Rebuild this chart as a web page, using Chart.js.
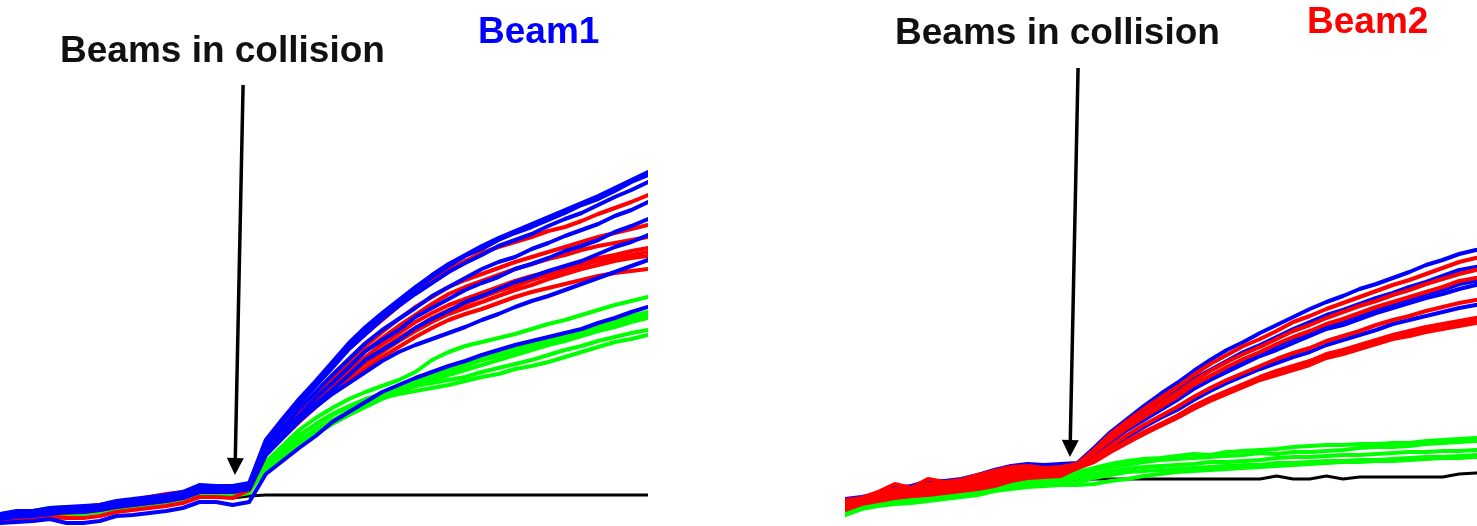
<!DOCTYPE html>
<html>
<head>
<meta charset="utf-8">
<script src="https://cdn.jsdelivr.net/npm/chart.js@4/dist/chart.umd.min.js"></script>
<style>
  html, body { margin: 0; padding: 0; background: #fff; }
  body { position: relative; width: 1477px; height: 526px; overflow: hidden; }
  canvas { position: absolute; top: 0; }
  #beam1 { left: 0; }
  #beam2 { left: 845px; }
  .lbl { position: absolute; font-family: "Liberation Sans", Arial, sans-serif; font-weight: bold;
         white-space: nowrap; line-height: 1; font-size: 37px; }
</style>
</head>
<body>
<canvas id="beam1" width="648" height="526"></canvas>
<canvas id="beam2" width="664" height="526"></canvas>
<div class="lbl" style="left:60px; top:31px; color:#111;">Beams in collision</div>
<div class="lbl" style="left:478px; top:12px; color:#0000ff;">Beam1</div>
<div class="lbl" style="left:895px; top:13px; color:#111;">Beams in collision</div>
<div class="lbl" style="left:1307px; top:2px; color:#ff0000;">Beam2</div>
<script>
// sample number (one reading per step)
const steps = [0,1,2,3,4,5,6,7,8,9,10,11,12,13,14,15,16,17,18,19,20,21,22,23,24,25,26,27,28,29,30,31,32,33,34,35,36,37,38,39];

// ---- Beam 1 panel: growth per bunch, arbitrary units ----
const beam1Blue = [
  [-14,-11,-11,-8,-7,-6,-5,-1,1,3,5,8,15,14,14,17,60,81,101,119,138,157,173,187,200,213,225,236,245,254,262,269,276,283,290,297,304,312,320,328],
  [-15,-12,-11,-9,-8,-7,-6,-2,0,2,4,7,13,13,13,16,59,79,100,117,135,156,170,185,198,210,223,234,244,251,260,267,273,280,287,295,301,309,318,325],
  [-16,-13,-12,-10,-9,-8,-7,-3,-1,1,3,6,12,12,12,15,57,78,96,114,132,151,166,181,194,206,217,228,237,245,254,260,266,274,281,287,295,303,310,318],
  [-17,-14,-13,-11,-10,-9,-7,-4,-2,0,2,5,11,11,11,14,53,72,91,108,125,141,157,170,181,192,204,213,222,231,238,243,251,257,264,270,276,284,290,298],
  [-17,-15,-14,-12,-11,-10,-8,-5,-3,-1,1,4,10,10,10,13,50,69,84,102,117,133,149,160,170,183,192,201,210,217,223,231,236,242,249,254,260,268,274,281],
  [-18,-16,-15,-13,-11,-11,-9,-6,-4,-2,0,3,9,9,9,12,47,63,80,96,110,125,140,150,160,172,181,189,198,204,211,218,223,229,234,239,246,253,258,265],
  [-19,-17,-16,-14,-12,-12,-10,-7,-5,-3,-1,2,8,8,8,11,45,62,79,93,106,117,128,139,148,155,161,167,173,180,186,193,199,204,210,216,222,228,234,240],
  [-23,-22,-21,-19,-23,-23,-21,-16,-15,-13,-11,-8,-2,-2,-5,-2,26,39,52,64,78,88,98,108,115,122,128,134,139,145,150,155,159,163,167,171,177,182,188,193]
];
const beam1Red = [
  [-15,-12,-12,-9,-8,-7,-5,-2,0,3,6,8,13,13,13,15,57,78,98,116,134,151,166,180,194,207,219,230,239,247,253,258,263,269,273,279,286,292,298,305],
  [-16,-14,-13,-10,-9,-8,-6,-3,-1,1,3,6,12,11,12,14,53,72,90,107,123,139,154,168,181,193,203,213,220,226,232,238,243,248,253,258,263,267,271,275],
  [-17,-15,-14,-11,-10,-9,-7,-4,-2,0,2,5,11,10,11,13,51,69,87,103,119,134,149,162,174,185,196,206,213,219,225,231,236,241,245,250,254,257,260,263],
  [-18,-16,-15,-12,-11,-10,-8,-5,-3,-1,1,4,10,9,10,12,49,67,84,100,115,129,143,156,167,178,187,195,201,207,213,219,224,228,233,238,242,245,249,252],
  [-18,-16,-15,-13,-12,-11,-9,-6,-4,-2,0,3,9,9,9,12,48,65,82,97,112,126,139,151,162,172,182,190,196,203,209,214,220,225,230,235,239,242,245,248],
  [-19,-17,-16,-14,-13,-12,-10,-7,-5,-3,-1,2,8,8,8,11,47,64,80,95,110,124,137,148,159,169,178,186,192,198,204,210,215,221,226,231,235,239,242,244],
  [-20,-19,-18,-17,-18,-18,-16,-12,-10,-8,-6,-3,3,3,2,10,45,62,78,93,107,120,132,143,153,163,172,180,186,191,197,203,208,212,216,220,224,227,229,231]
];
const beam1Green = [
  [-14,-12,-11,-8,-7,-7,-5,-2,0,2,4,7,11,11,11,12,38,54,70,82,92,101,108,114,120,128,140,148,154,158,162,166,171,176,180,185,190,195,199,203],
  [-17,-15,-14,-12,-11,-10,-8,-5,-3,-1,1,4,8,8,8,11,32,46,58,69,79,88,96,104,111,118,125,131,137,143,148,153,157,161,166,170,175,180,184,188],
  [-18,-16,-15,-13,-12,-11,-9,-6,-4,-2,0,3,7,7,7,10,30,43,55,66,76,85,93,101,108,115,121,128,134,140,144,149,154,158,163,167,171,176,181,185],
  [-19,-17,-16,-14,-13,-12,-10,-7,-5,-3,-1,2,6,6,6,9,33,48,60,70,80,88,95,102,108,114,119,125,130,135,140,145,150,155,159,164,169,173,178,182],
  [-19,-18,-17,-15,-14,-13,-11,-8,-6,-4,-2,1,5,5,5,8,35,51,64,76,86,94,101,106,111,114,117,120,123,128,132,136,140,145,150,154,159,163,167,170],
  [-20,-18,-17,-15,-14,-14,-12,-9,-7,-5,-3,0,4,4,4,7,34,50,65,75,85,92,98,102,106,109,112,115,119,123,126,131,134,138,143,148,153,158,161,165]
];
const beam1Reference = [-20,-18,-17,-15,-14,-13,-12,-9,-8,-7,-4,0,3,3,2,4,5,5,5,5,5,5,5,5,5,5,5,5,5,5,5,5,5,5,5,5,5,5,5,5];

// ---- Beam 2 panel ----
const beam2Red = [
  [0,2,8,16,12,21,18,20,25,29,33,34,32,33,36,50,66,79,91,102,113,125,136,145,154,161,169,178,184,191,197,203,209,215,220,226,232,238,242,244],
  [-2,0,6,11,10,16,16,18,22,27,31,33,31,32,36,48,62,75,86,97,107,119,129,138,146,153,161,169,175,182,188,194,199,205,210,216,221,226,230,232],
  [-4,-1,4,9,8,13,14,16,20,24,29,31,30,31,35,47,60,72,83,93,103,115,124,133,141,148,156,163,169,176,181,187,193,198,203,208,213,219,222,224],
  [-6,-1,2,6,7,10,12,14,18,22,26,29,28,29,34,42,54,65,75,84,93,103,112,120,127,134,141,147,152,159,164,169,175,180,184,189,193,197,200,202],
  [-7,-2,1,4,6,8,10,12,15,19,23,26,26,27,32,39,49,59,68,76,84,94,102,109,116,123,129,134,139,146,150,155,160,165,169,173,176,179,182,184],
  [-9,-3,0,3,4,6,8,10,13,16,21,24,24,25,32,39,50,58,66,75,84,92,101,107,115,121,127,133,137,143,148,154,158,162,167,171,175,177,180,182],
  [-10,-4,-1,2,4,5,7,9,11,14,19,22,23,24,32,38,48,57,66,74,82,91,99,106,113,120,125,130,135,142,146,151,156,161,164,168,171,174,177,179]
];
const beam2Blue = [
  [1,3,6,12,14,19,19,21,25,30,34,36,35,36,37,52,68,81,94,106,117,129,140,150,158,167,175,183,191,198,204,211,216,222,228,235,240,246,250,251],
  [-1,1,5,10,11,15,16,18,22,26,31,33,33,34,36,49,63,76,87,98,109,121,130,139,148,155,163,171,178,185,190,196,202,207,213,218,224,230,233,235],
  [-3,0,3,8,9,13,14,16,20,24,29,31,31,32,35,46,59,71,82,92,102,113,122,131,139,146,154,161,167,174,179,185,190,196,201,206,210,216,219,221],
  [-4,-1,2,7,8,11,12,14,18,22,27,30,30,31,34,45,58,70,80,90,100,111,120,128,136,144,150,157,164,171,175,181,187,192,197,202,206,211,215,217],
  [-6,-2,1,5,6,9,10,12,16,20,25,28,28,29,33,41,53,63,73,82,90,100,109,117,124,131,137,143,148,155,160,165,170,176,180,184,188,192,195,197]
];
const beam2Green = [
  [-8,-3,2,6,7,10,12,14,16,20,23,25,26,27,28,32,36,39,41,42,44,46,45,48,49,50,51,53,54,55,55,56,56,57,57,59,60,61,62,62],
  [-10,-5,-1,2,3,6,8,10,12,16,19,21,22,23,25,30,33,35,38,40,41,42,43,44,45,47,46,48,48,49,50,52,53,53,54,56,57,58,59,60],
  [-12,-6,-3,0,1,3,5,7,9,13,16,18,19,20,22,26,29,31,33,34,35,36,38,38,39,40,42,43,43,44,45,45,46,47,48,48,49,49,50,50],
  [-13,-7,-4,-2,-1,1,3,5,7,11,13,15,16,17,18,22,25,28,29,30,31,32,33,34,35,35,37,37,38,39,39,40,40,41,42,43,43,44,45,46],
  [-15,-9,-6,-4,-3,-1,1,3,5,9,11,13,14,15,15,16,19,21,24,26,28,29,30,31,32,33,34,35,36,37,38,38,39,39,40,41,42,42,43,43]
];
const beam2Reference = [-5,-1,1,2,3,5,7,9,13,16,18,20,20,19,19,21,21,21,21,21,21,21,21,21,21,21,24,21,21,24,21,23,23,23,23,23,23,26,27,27];

// "Beams in collision" arrows, as [step, value] from tail to tip
const beam1Arrow = [[14.63, 415], [14.14, 25]];
const beam2Arrow = [[14.04, 432], [13.55, 43]];

const COLORS = { blue: '#0000ff', red: '#ff0000', green: '#00ff00', black: '#000000' };

function series(values, color, order, width) {
  return {
    data: values.map((v, i) => ({ x: steps[i], y: v })),
    borderColor: color,
    borderWidth: width,
    pointRadius: 0,
    tension: 0,
    fill: false,
    order: order,
    borderJoinStyle: 'round',
    borderCapStyle: 'round'
  };
}

const arrowPlugin = {
  id: 'collisionArrow',
  afterDatasetsDraw(chart, args, opts) {
    const { ctx, scales } = chart;
    const [tail, tip] = opts.points;
    const tx = scales.x.getPixelForValue(tail[0]), ty = scales.y.getPixelForValue(tail[1]);
    const hx = scales.x.getPixelForValue(tip[0]), hy = scales.y.getPixelForValue(tip[1]);
    const len = Math.hypot(hx - tx, hy - ty);
    const ux = (hx - tx) / len, uy = (hy - ty) / len;
    const headLen = 17, headHalf = 8.5;
    const bx = hx - ux * headLen, by = hy - uy * headLen;
    ctx.save();
    ctx.strokeStyle = '#000';
    ctx.fillStyle = '#000';
    ctx.lineWidth = 3.5;
    ctx.beginPath();
    ctx.moveTo(tx, ty);
    ctx.lineTo(bx, by);
    ctx.stroke();
    ctx.beginPath();
    ctx.moveTo(hx, hy);
    ctx.lineTo(bx - uy * headHalf, by + ux * headHalf);
    ctx.lineTo(bx + uy * headHalf, by - ux * headHalf);
    ctx.closePath();
    ctx.fill();
    ctx.restore();
  }
};

function makePanel(id, datasets, xMax, arrow) {
  return new Chart(document.getElementById(id), {
    type: 'line',
    data: { datasets },
    options: {
      responsive: false,
      animation: false,
      devicePixelRatio: 1,
      events: [],
      layout: { padding: 0 },
      scales: {
        x: { type: 'linear', min: 0, max: xMax, display: false },
        y: { type: 'linear', min: -26, max: 500, display: false }
      },
      plugins: {
        legend: { display: false },
        tooltip: { enabled: false },
        collisionArrow: { points: arrow }
      }
    },
    plugins: [arrowPlugin]
  });
}

// Beam 1: blue drawn on top
makePanel('beam1', [
  ...beam1Blue.map(v => series(v, COLORS.blue, 1, 4)),
  ...beam1Red.map(v => series(v, COLORS.red, 2, 4)),
  ...beam1Green.map(v => series(v, COLORS.green, 3, 4)),
  series(beam1Reference, COLORS.black, 4, 3)
], 39, beam1Arrow);

// Beam 2: red drawn on top
makePanel('beam2', [
  ...beam2Red.map(v => series(v, COLORS.red, 1, 4)),
  ...beam2Blue.map(v => series(v, COLORS.blue, 2, 4)),
  ...beam2Green.map(v => series(v, COLORS.green, 3, 4)),
  series(beam2Reference, COLORS.black, 4, 3)
], 40, beam2Arrow);
</script>
</body>
</html>
